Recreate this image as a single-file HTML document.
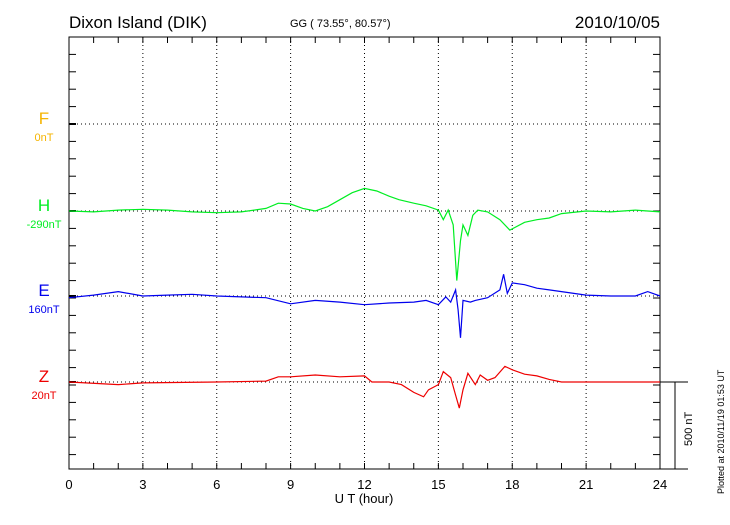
<!DOCTYPE html>
<html><head><meta charset="utf-8"><style>
body{margin:0;background:#fff}
svg text{font-family:"Liberation Sans",sans-serif}
</style></head><body>
<svg id="c" width="730" height="520" xmlns="http://www.w3.org/2000/svg">
<text x="69" y="28" font-size="17">Dixon Island (DIK)</text>
<text x="290" y="27" font-size="11">GG ( 73.55°,  80.57°)</text>
<text x="660" y="28" font-size="17" text-anchor="end">2010/10/05</text>
<text x="364" y="503" font-size="13" text-anchor="middle">U T (hour)</text>
<text transform="translate(724,494) rotate(-90)" font-size="9">Plotted at 2010/11/19 01:53 UT</text>
<text transform="translate(692,446) rotate(-90)" font-size="11">500 nT</text>
<g id="grid"></g><g id="series"></g>
</svg>
<script>
const xTicks=[0,3,6,9,12,15,18,21,24];
const hT=[0,1,2,3,4,5,6,7,8,8.5,9,9.5,10,10.5,11,11.5,12,12.5,13,13.4,14,14.5,15,15.2,15.4,15.6,15.75,15.9,16,16.2,16.4,16.6,17,17.5,17.9,18.5,19,19.5,20,21,22,23,24];
const hV=[0,-5,5,10,5,-5,-10,-5,15,45,40,15,0,25,65,105,130,115,85,65,45,30,5,-50,5,-80,-400,-170,-80,-140,-25,5,-5,-50,-110,-65,-50,-40,-15,0,-5,5,-5];
const eT=[0,1,2,3,4,5,6,7,8,9,10,11,12,13,14,14.5,15,15.3,15.5,15.7,15.8,15.9,16,16.3,16.5,17,17.5,17.65,17.8,18,18.5,19,19.5,20,21,22,23,23.5,24];
const eV=[-10,5,25,0,5,10,0,-5,-10,-45,-25,-35,-50,-40,-35,-25,-50,-5,-35,35,-80,-240,-25,-35,-25,-10,35,125,15,75,65,45,35,25,5,0,0,25,0];
const zT=[0,2,3,6,8,8.5,9,10,11,12,12.3,13,13.5,14,14.4,14.6,15,15.2,15.5,15.7,15.85,16,16.2,16.5,16.7,17,17.3,17.7,18,18.5,19,19.5,20,24];
const zV=[0,-15,-5,0,5,30,30,40,30,35,0,0,-15,-60,-85,-45,-15,60,25,-75,-150,-45,50,-15,40,10,25,90,70,45,35,15,0,0];
const labels=[{n:'F',v:'0nT',c:'#f5b400',y:124},{n:'H',v:'-290nT',c:'#00ee22',y:211},{n:'E',v:'160nT',c:'#0000ee',y:296},{n:'Z',v:'20nT',c:'#ee0000',y:382}];
const L=69,R=660,T=37,B=469,ppn=87/500;
const x=h=>L+h*(R-L)/24;
const NS='http://www.w3.org/2000/svg';
const g=document.getElementById('grid'),s=document.getElementById('series');
function mk(t,a,p){const e=document.createElementNS(NS,t);for(const k in a)e.setAttribute(k,a[k]);p.appendChild(e);return e;}
let e=mk('rect',{x:L,y:T,width:R-L,height:B-T,fill:'none',stroke:'#000','stroke-width':1},g);


for(let h=0;h<=24;h++){
 mk('line',{x1:x(h),x2:x(h),y1:B,y2:B-6,stroke:'#000'},g);
 mk('line',{x1:x(h),x2:x(h),y1:T,y2:T+6,stroke:'#000'},g);
}
xTicks.forEach(h=>{
 if(h>0&&h<24){const l=mk('line',{x1:x(h),x2:x(h),y1:T,y2:B,stroke:'#000','stroke-dasharray':'1,3'},g);
 
 }
 const t=mk('text',{x:x(h),y:489,'font-size':13,'text-anchor':'middle'},g);t.textContent=h;
 
 
});
for(let y=T;y<=B+1;y+=87/5){mk('line',{x1:L,x2:L+7,y1:y,y2:y,stroke:'#000'},g);mk('line',{x1:R,x2:R-7,y1:y,y2:y,stroke:'#000'},g);}
labels.forEach(lb=>{
 const d=mk('line',{x1:L,x2:R,y1:lb.y,y2:lb.y,stroke:'#000','stroke-dasharray':'1,3'},g);
 
 
 mk('line',{x1:L,x2:L+7,y1:lb.y,y2:lb.y,stroke:'#000','stroke-width':2},g);
 const t=mk('text',{x:44,y:lb.y,'font-size':17,'text-anchor':'middle',fill:lb.c},g);t.textContent=lb.n;
 
 
 const u=mk('text',{x:44,y:lb.y+17,'font-size':11,'text-anchor':'middle',fill:lb.c},g);u.textContent=lb.v;
 
 
});
mk('line',{x1:R,x2:688,y1:382,y2:382,stroke:'#000'},g);
mk('line',{x1:R,x2:688,y1:B,y2:B,stroke:'#000'},g);
e=mk('line',{x1:675,x2:675,y1:382,y2:B,stroke:'#000'},g);


function line(ts,vs,base,col,name){
 const p=ts.map((t,i)=>x(t).toFixed(1)+','+(base-vs[i]*ppn).toFixed(1)).join(' ');
 const pl=mk('polyline',{points:p,fill:'none',stroke:col,'stroke-width':1.2},s);
 
 
}
line(hT,hV,211,'#00ee22','series-h');
line(eT,eV,296,'#0000ee','series-e');
line(zT,zV,382,'#ee0000','series-z');
</script>
</body></html>
